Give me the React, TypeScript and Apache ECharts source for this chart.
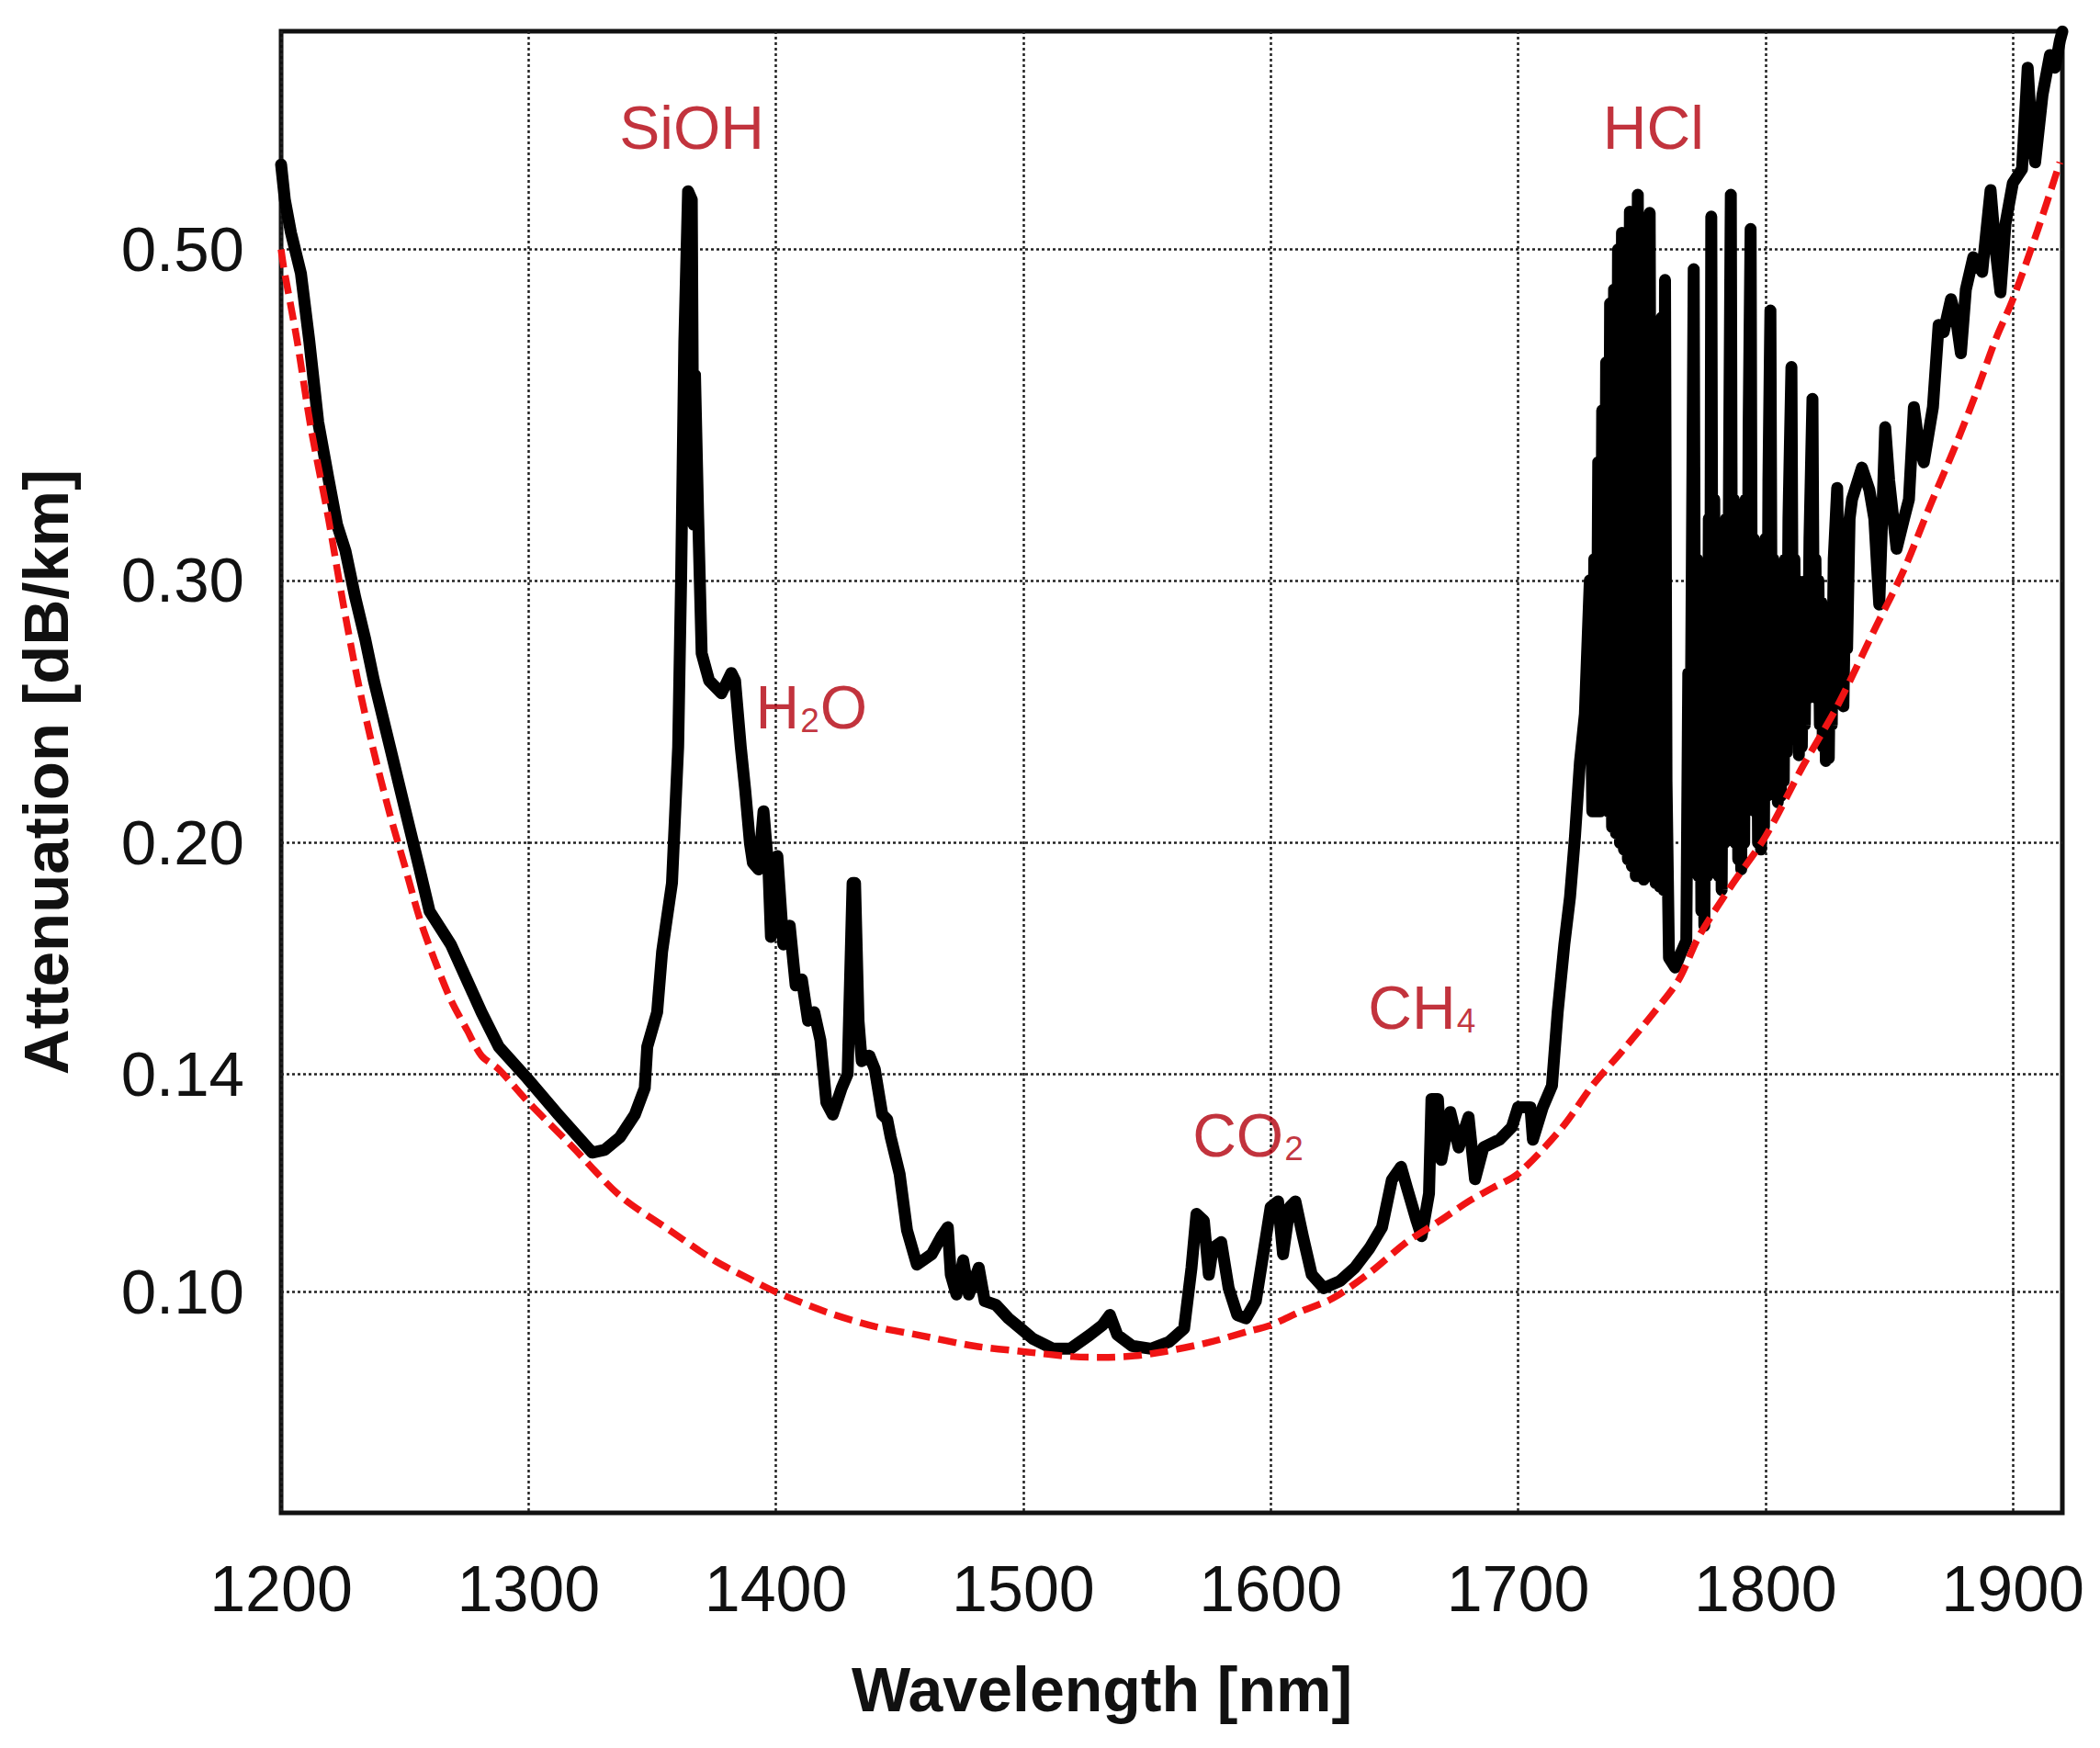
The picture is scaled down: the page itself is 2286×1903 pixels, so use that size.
import { useEffect, useRef } from "react";
import * as echarts from "echarts";

const SHORT_EDGE = [
  [1200, 0.57], [1201.5, 0.54], [1204, 0.513], [1208, 0.482], [1211.4, 0.434],
  [1215, 0.383], [1219, 0.352], [1222.6, 0.327], [1226, 0.314], [1230, 0.292],
  [1234, 0.274], [1237.5, 0.257], [1244, 0.232], [1250, 0.211], [1256, 0.192],
  [1260, 0.18], [1268.6, 0.171], [1275, 0.162], [1281, 0.154], [1288, 0.146],
  [1299.6, 0.139], [1312, 0.1315], [1325.7, 0.124], [1330.7, 0.1245], [1337, 0.127],
  [1343, 0.1315], [1347, 0.137], [1348, 0.146], [1352, 0.154], [1354, 0.169],
  [1355.5, 0.176], [1358, 0.188],
];

const SIOH_PEAK = [
  [1360.5, 0.232], [1361.7, 0.301], [1363, 0.434], [1364.5, 0.547], [1366, 0.54],
  [1366.7, 0.327], [1367.3, 0.412], [1368.6, 0.33], [1370, 0.268], [1373, 0.257],
  [1378, 0.252], [1382, 0.26], [1383.5, 0.257],
];

const H2O_BAND = [
  [1385.8, 0.232], [1387.6, 0.217], [1389.5, 0.2], [1390.7, 0.194], [1393, 0.192],
  [1395, 0.21], [1397, 0.192], [1398, 0.173], [1400.6, 0.196], [1403, 0.171],
  [1405.6, 0.176], [1408, 0.1605], [1410.5, 0.162], [1413, 0.152], [1415.5, 0.154],
  [1418, 0.1475], [1420.4, 0.134], [1423, 0.1315], [1426.6, 0.137], [1429, 0.14],
  [1431, 0.188], [1432, 0.188], [1433.4, 0.152], [1434.7, 0.1428], [1437.8, 0.144],
  [1440, 0.141], [1443, 0.1315], [1445, 0.1305], [1446.4, 0.127], [1450, 0.12],
  [1453, 0.11],
];

const LOW_LOSS_WINDOW = [
  [1457, 0.1043], [1463, 0.106], [1467, 0.109], [1469.5, 0.1105], [1470.7, 0.1027],
  [1473, 0.0996], [1475.7, 0.105], [1478, 0.0996], [1482, 0.1038], [1484.4, 0.0986],
  [1489, 0.098], [1494, 0.096], [1499, 0.0945], [1504, 0.093], [1512, 0.0916],
  [1519, 0.0916], [1527, 0.0936], [1532, 0.095], [1535, 0.0965], [1538, 0.0936],
  [1544, 0.092], [1551.7, 0.0916], [1559, 0.0926], [1565, 0.0945], [1568, 0.1038],
  [1570, 0.1128], [1573, 0.1116], [1575, 0.1027], [1576.6, 0.107], [1580, 0.108],
  [1583, 0.1006], [1586.5, 0.0965], [1590, 0.096], [1594, 0.0986], [1597, 0.106],
  [1600, 0.114], [1603, 0.115], [1605, 0.106], [1607.7, 0.114], [1610, 0.115],
  [1613, 0.109], [1616.6, 0.1027], [1621.5, 0.1006],
];

const CH4_BAND = [
  [1628, 0.1017], [1634, 0.1038], [1640, 0.107], [1645, 0.1105], [1649, 0.1189],
  [1652.7, 0.1213], [1655, 0.1176], [1659, 0.1116], [1661, 0.109], [1664, 0.1164],
  [1665, 0.1347], [1667.6, 0.1347], [1669, 0.1226], [1672.6, 0.132], [1676, 0.125],
  [1680, 0.131], [1682.6, 0.119], [1686, 0.125], [1692.5, 0.1265], [1697.5, 0.129],
  [1700, 0.133], [1705, 0.133], [1706, 0.1265], [1710, 0.133], [1713.7, 0.1375],
  [1716, 0.154], [1718.7, 0.171], [1721, 0.184], [1723, 0.202], [1725, 0.2265],
  [1727, 0.244], [1729, 0.3],
];

// first HCl comb: lines packed so tightly they print as a solid block
const HCL_BAND_A = [
  [1730, 0.21], [1730.8, 0.31], [1731.6, 0.21], [1732.4, 0.36], [1733.2, 0.21],
  [1734, 0.39], [1734.8, 0.212], [1735.6, 0.42], [1736.4, 0.21], [1737.2, 0.46],
  [1738, 0.205], [1738.8, 0.47], [1739.6, 0.203], [1740.4, 0.5], [1741.2, 0.2],
  [1742, 0.513], [1742.8, 0.198], [1743.6, 0.49], [1744.4, 0.195], [1745.2, 0.53],
  [1746, 0.193], [1746.8, 0.5], [1747.6, 0.19], [1748.4, 0.544], [1749.2, 0.19],
  [1750, 0.47], [1750.8, 0.189], [1751.6, 0.5], [1752.4, 0.19], [1753.2, 0.529],
  [1754, 0.19], [1754.8, 0.44], [1755.6, 0.188], [1756.4, 0.4], [1757.2, 0.187],
  [1758, 0.45], [1758.8, 0.186], [1759.4, 0.477], [1760, 0.22], [1761, 0.1675],
  [1763.5, 0.165], [1766, 0.169],
];

// second HCl comb: tall single lines with a dense floor between them
const HCL_BAND_B = [
  [1768, 0.172], [1768.8, 0.26], [1769.5, 0.2], [1770.2, 0.3], [1771, 0.485],
  [1771.7, 0.2], [1772.3, 0.31], [1772.9, 0.19], [1773.5, 0.29], [1774.1, 0.18],
  [1774.7, 0.27], [1775.3, 0.176], [1775.9, 0.3], [1776.5, 0.19], [1777.1, 0.33],
  [1777.6, 0.22], [1778.1, 0.526], [1778.7, 0.21], [1779.3, 0.34], [1779.9, 0.2],
  [1780.5, 0.31], [1781.1, 0.19], [1781.7, 0.29], [1782.3, 0.186], [1782.9, 0.3],
  [1783.5, 0.2], [1784.1, 0.33], [1784.7, 0.21], [1785.3, 0.36], [1786, 0.544],
  [1786.6, 0.22], [1787.2, 0.34], [1787.8, 0.2], [1788.4, 0.31], [1789, 0.195],
  [1789.6, 0.3], [1790.2, 0.192], [1790.8, 0.31], [1791.4, 0.2], [1792, 0.34],
  [1792.6, 0.22], [1793.2, 0.38], [1794, 0.516], [1794.6, 0.23], [1795.2, 0.32],
  [1795.8, 0.21], [1796.4, 0.3], [1797, 0.2], [1797.6, 0.29], [1798.2, 0.198],
  [1798.8, 0.3], [1799.4, 0.205], [1800, 0.32], [1800.6, 0.215], [1801.2, 0.35],
  [1802, 0.455], [1802.6, 0.24], [1803.2, 0.31], [1803.8, 0.22], [1804.4, 0.3],
  [1805, 0.213], [1805.6, 0.29], [1806.2, 0.215], [1806.8, 0.3], [1807.4, 0.22],
  [1808, 0.31], [1808.6, 0.23], [1809.3, 0.33], [1810.5, 0.417], [1811.1, 0.25],
  [1811.7, 0.31], [1812.3, 0.235], [1812.9, 0.3], [1813.5, 0.229], [1814.1, 0.28],
  [1814.7, 0.232], [1815.3, 0.29], [1815.9, 0.24], [1816.5, 0.3], [1817.1, 0.25],
  [1817.8, 0.32], [1819, 0.397], [1819.6, 0.26], [1820.2, 0.31], [1820.8, 0.25],
  [1821.4, 0.3], [1822, 0.24], [1822.6, 0.29], [1823.2, 0.232], [1823.8, 0.28],
  [1824.4, 0.227], [1825, 0.27], [1825.6, 0.228], [1826.2, 0.28], [1826.8, 0.24],
  [1827.6, 0.31], [1829, 0.346], [1829.8, 0.28], [1830.6, 0.25], [1831.5, 0.247],
  [1832.3, 0.3], [1833, 0.27], [1834, 0.33],
];

const LONG_EDGE = [
  [1835, 0.34], [1839, 0.357], [1842, 0.345], [1844, 0.33], [1846, 0.289],
  [1848.4, 0.38], [1850, 0.35], [1853, 0.315], [1856, 0.33], [1858, 0.34],
  [1860, 0.392], [1862, 0.37], [1864, 0.36], [1867.7, 0.392], [1870, 0.445],
  [1872, 0.44], [1875, 0.463], [1877, 0.45], [1879, 0.426], [1881, 0.47],
  [1884, 0.494], [1887.6, 0.483], [1891, 0.548], [1893, 0.5], [1895, 0.468],
  [1897, 0.52], [1900, 0.554], [1903.7, 0.566], [1906, 0.662], [1907.5, 0.6],
  [1909, 0.572], [1912, 0.635], [1915, 0.675], [1917, 0.662], [1919, 0.69],
  [1920, 0.7],
];

// red dashed fit through the bottom of the spectrum
const BASELINE_FIT = [
  [1200, 0.5], [1201, 0.487], [1206.5, 0.434], [1212, 0.38], [1219, 0.331],
  [1225, 0.29], [1231, 0.257], [1237, 0.232], [1244, 0.209], [1250, 0.193],
  [1256, 0.178], [1262, 0.167], [1268.6, 0.157], [1275, 0.15], [1281, 0.144],
  [1288, 0.141], [1300, 0.134], [1318, 0.125], [1337, 0.116], [1357, 0.11],
  [1375, 0.105], [1389.5, 0.102], [1400, 0.1], [1420, 0.097], [1440, 0.0948],
  [1457, 0.0936], [1480, 0.092], [1500, 0.0912], [1520, 0.0905], [1532, 0.0904],
  [1545, 0.0906], [1557, 0.0912], [1575, 0.0925], [1590, 0.094], [1600, 0.095],
  [1612, 0.097], [1625, 0.099], [1640, 0.103], [1655, 0.108], [1668, 0.1115],
  [1680, 0.115], [1690, 0.1175], [1700, 0.12], [1718, 0.129], [1730, 0.1375],
  [1742, 0.145], [1755, 0.154], [1765, 0.162], [1773, 0.173], [1786, 0.187],
  [1800, 0.202], [1815, 0.225], [1829, 0.247], [1845, 0.28], [1856, 0.305],
  [1866, 0.335], [1877, 0.37], [1885, 0.4], [1893, 0.435], [1900, 0.463],
  [1910, 0.515], [1919, 0.572],
];

const X_TICKS = [1200, 1300, 1400, 1500, 1600, 1700, 1800, 1900];
const Y_TICKS = [0.1, 0.14, 0.2, 0.3, 0.5];

// absorption band names, anchored at [nm, dB/km]
const BAND_NAMES = [
  { rich: "{a|SiOH}", at: [1366, 0.603] },
  { rich: "{a|H}{b|2}{a|O}", at: [1414.4, 0.2465] },
  { rich: "{a|CO}{b|2}", at: [1591, 0.1274] },
  { rich: "{a|CH}{b|4}", at: [1661.3, 0.1552] },
  { rich: "{a|HCl}", at: [1754.7, 0.603] },
];

const FONT = "'Liberation Sans', Arial, sans-serif";
const LABEL_RED = "#b3000c";
const Y_MIN = 0.0711;
const Y_MAX = 0.7003;

const toLog = (pts: number[][]) => pts.map(([x, y]) => [x, Math.log10(y)]);

const App = () => {
  const ref = useRef<HTMLDivElement | null>(null);

  useEffect(() => {
    if (!ref.current) return;
    const chart = echarts.init(ref.current, null, { renderer: "svg" });

    const spectrum = [
      ...SHORT_EDGE,
      ...SIOH_PEAK,
      ...H2O_BAND,
      ...LOW_LOSS_WINDOW,
      ...CH4_BAND,
      ...HCL_BAND_A,
      ...HCL_BAND_B,
      ...LONG_EDGE,
    ];
    const yTickLogs = Y_TICKS.map((v) => Math.log10(v));

    chart.setOption({
      animation: false,
      backgroundColor: "#fff",
      grid: {
        left: 298,
        top: 26,
        right: 33,
        bottom: 248,
        show: true,
        borderColor: "#111",
        borderWidth: 5,
      },
      xAxis: {
        type: "value",
        min: 1200,
        max: 1920,
        interval: 100,
        name: "Wavelength [nm]",
        nameLocation: "middle",
        nameGap: 158,
        nameTextStyle: {
          fontFamily: FONT,
          fontSize: 68,
          fontWeight: "bold",
          color: "#111",
          padding: [0, 152, 0, 0],
        },
        axisLine: { show: false },
        axisTick: { show: false, customValues: X_TICKS },
        axisLabel: {
          customValues: X_TICKS,
          margin: 48,
          fontFamily: FONT,
          fontSize: 70,
          color: "#111",
          formatter: (v: number) => String(v),
        },
        splitLine: {
          show: true,
          lineStyle: { color: "#222", width: 2.5, type: [3, 3] },
        },
      },
      yAxis: {
        type: "value",
        min: Math.log10(Y_MIN),
        max: Math.log10(Y_MAX),
        name: "Attenuation [dB/km]",
        nameLocation: "middle",
        nameGap: 221,
        nameTextStyle: {
          fontFamily: FONT,
          fontSize: 69,
          fontWeight: "bold",
          color: "#111",
        },
        axisLine: { show: false },
        axisTick: { show: false, customValues: yTickLogs },
        axisLabel: {
          customValues: yTickLogs,
          margin: 40,
          fontFamily: FONT,
          fontSize: 69,
          color: "#111",
          formatter: (v: number) => Math.pow(10, v).toFixed(2),
        },
        splitLine: {
          show: true,
          lineStyle: { color: "#222", width: 2.5, type: [3, 3] },
        },
      },
      series: [
        {
          name: "Attenuation",
          type: "line",
          data: toLog(spectrum),
          showSymbol: false,
          lineStyle: { color: "#000", width: 13, join: "round", cap: "round" },
          z: 3,
        },
        {
          name: "Fit",
          type: "line",
          data: toLog(BASELINE_FIT),
          showSymbol: false,
          smooth: 0.3,
          lineStyle: { color: "#f01414", width: 7.5, type: [20, 9] },
          z: 4,
        },
        {
          name: "Bands",
          type: "scatter",
          symbolSize: 1,
          itemStyle: { color: "transparent" },
          data: BAND_NAMES.map((b) => ({
            value: [b.at[0], Math.log10(b.at[1])],
            label: { formatter: b.rich },
          })),
          label: {
            show: true,
            position: "inside",
            align: "center",
            verticalAlign: "middle",
            rich: {
              a: {
                fontFamily: FONT,
                fontSize: 66,
                lineHeight: 66,
                color: LABEL_RED,
              },
              b: {
                fontFamily: FONT,
                fontSize: 37,
                lineHeight: 37,
                verticalAlign: "bottom",
                color: LABEL_RED,
                padding: [0, 1, 0, 1],
              },
            },
          },
          z: 5,
        },
      ],
    });

    return () => chart.dispose();
  }, []);

  return <div ref={ref} style={{ width: 2270, height: 1887 }} />;
};

export default App;
